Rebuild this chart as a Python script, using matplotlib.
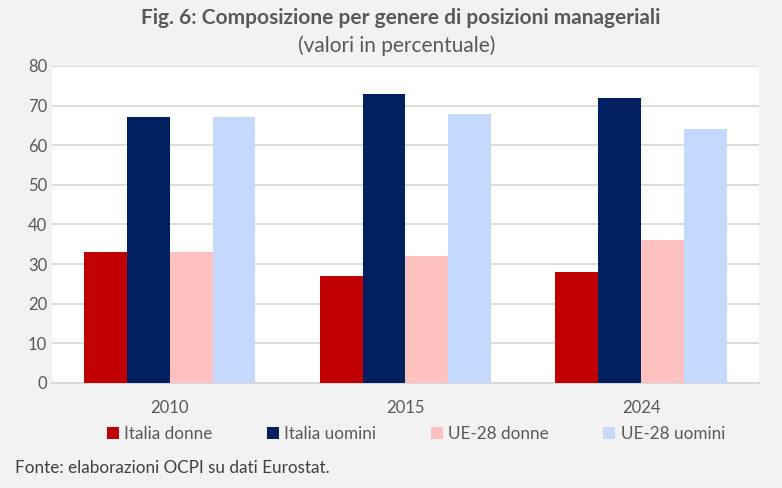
import numpy as np
from matplotlib import pyplot as plt

# dati
anni = ['2010', '2015', '2024']
serie = ['Italia donne', 'Italia uomini', 'UE-28 donne', 'UE-28 uomini']
italia_donne = [33, 27, 28]
italia_uomini = [67, 73, 72]
ue_donne = [33, 32, 36]
ue_uomini = [67, 68, 64]
colori = ['#c00000', '#002060', '#ffc0c0', '#c5d9ff']

plt.rcParams['font.family'] = ['Lato', 'DejaVu Sans']

fig = plt.figure(figsize=(7.82, 4.88), dpi=100)
fig.patch.set_facecolor('#f2f2f2')
ax = fig.add_axes([0.0665, 0.2152, 0.904, 0.6496])
ax.set_facecolor('white')

valori = [italia_donne, italia_uomini, ue_donne, ue_uomini]
x = np.arange(len(anni))
w = 0.727 / 4
for i, v in enumerate(valori):
    ax.bar(x - 0.727 / 2 + w * (i + 0.5), v, width=w, color=colori[i],
           label=serie[i], zorder=3)

ax.set_xlim(-0.5, 2.5)
ax.set_ylim(0, 80)
ax.set_yticks(range(0, 81, 10))
ax.grid(axis='y', color='#d9d9d9', linewidth=1.3, zorder=0)
for s in ['top', 'right', 'left']:
    ax.spines[s].set_visible(False)
ax.spines['bottom'].set_color('#d9d9d9')
ax.spines['bottom'].set_linewidth(1.5)
ax.tick_params(axis='both', length=0, colors='#595959', labelsize=12)
ax.tick_params(axis='x', pad=12)
ax.set_xticks(x)
ax.set_xticklabels(anni)

fig.text(0.512, 0.963, 'Fig. 6: Composizione per genere di posizioni manageriali',
         ha='center', va='center', fontsize=15, fontweight='bold', color='#595959')
fig.text(0.507, 0.906, '(valori in percentuale)', ha='center', va='center',
         fontsize=15, color='#595959')

fig.legend(loc='center', bbox_to_anchor=(0.532, 0.111), ncol=4, frameon=False,
           fontsize=12.3, handlelength=0.7, handleheight=0.7, handletextpad=0.3,
           columnspacing=3.2, labelcolor='#595959')

fig.text(0.019, 0.041, 'Fonte: elaborazioni OCPI su dati Eurostat.', ha='left',
         va='center', fontsize=12.3, color='#404040')

plt.savefig('out.png', dpi=100, facecolor=fig.get_facecolor())
